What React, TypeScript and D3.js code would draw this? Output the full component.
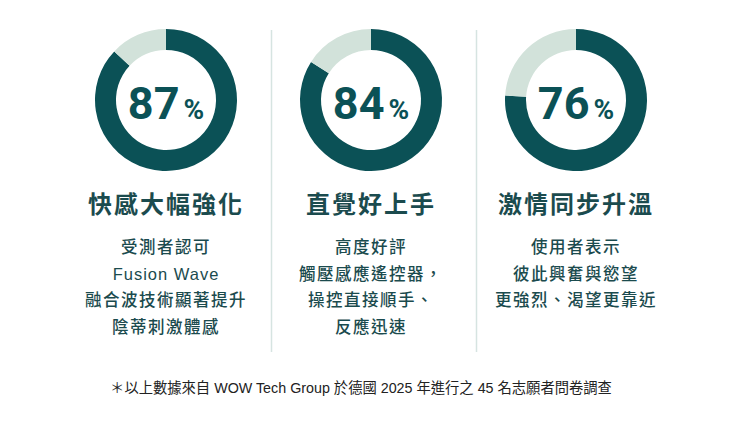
import * as d3 from 'd3';

const PERCENTS = [87, 84, 76];
const TITLES = ['快感大幅強化', '直覺好上手', '激情同步升溫'];
const DESCRIPTIONS: string[][] = [
  ['受測者認可', 'Fusion Wave', '融合波技術顯著提升', '陰蒂刺激體感'],
  ['高度好評', '觸壓感應遙控器，', '操控直接順手、', '反應迅速'],
  ['使用者表示', '彼此興奮與慾望', '更強烈、渴望更靠近'],
];
const FOOTNOTE = '＊以上數據來自 WOW Tech Group 於德國 2025 年進行之 45 名志願者問卷調查';

const W = 750;
const H = 447;
const DARK = '#0b5156';
const LIGHT = '#d2e2da';
const TEXT = '#1b4b4e';
const RULE = '#d6e4e1';
const CJK = '"Liberation Sans", Arial, "Noto Sans CJK TC", sans-serif';
const NUM = 'Roboto, "Liberation Sans", sans-serif';

export default function App() {
  const x = d3.scalePoint<number>()
    .domain(d3.range(PERCENTS.length))
    .range([166, 576]);

  const cy = 100;
  const outerR = 71;
  const innerR = 50;

  const pie = d3.pie<number>().sort(null).value(d => d);
  const arc = d3.arc<d3.PieArcDatum<number>>().innerRadius(innerR).outerRadius(outerR);

  const lineY = d3.scaleLinear().domain([0, 1]).range([247, 273.5]);

  return (
    <svg width={W} height={H} style={{ position: 'absolute', left: 0, top: 0, background: '#fff' }}>
      {/* dividers */}
      {[0, 1].map(i => {
        const mx = ((x(i) ?? 0) + (x(i + 1) ?? 0)) / 2 + 3;
        return <line key={i} x1={mx} x2={mx} y1={30} y2={352} stroke={RULE} strokeWidth={1.5} />;
      })}

      {PERCENTS.map((p, i) => {
        const cx = x(i) ?? 0;
        const slices = pie([p, 100 - p]);
        return (
          <g key={i}>
            <g transform={`translate(${cx},${cy})`}>
              {slices.map((s, j) => (
                <path key={j} d={arc(s) ?? ''} fill={j === 0 ? DARK : LIGHT} />
              ))}
              <text y={19} textAnchor="middle" fill={DARK} fontFamily={NUM} fontWeight={700}>
                <tspan fontSize={45}>{p}</tspan>
                <tspan fontSize={28} dx={4}>%</tspan>
              </text>
            </g>
            <text x={cx} y={204} textAnchor="middle" dominantBaseline="central" fontSize={24}
              fontWeight={700} letterSpacing={2} fill={TEXT} fontFamily={CJK}>
              {TITLES[i]}
            </text>
            {DESCRIPTIONS[i].map((line, k) => (
              <text key={k} x={cx} y={lineY(k)} textAnchor="middle" dominantBaseline="central"
                fontSize={16.5} fontWeight={500} letterSpacing={/^[A-Za-z ]+$/.test(line) ? 1 : 1.5}
                fill={TEXT} fontFamily={CJK}>
                {line}
              </text>
            ))}
          </g>
        );
      })}

      <text x={361} y={388} textAnchor="middle" dominantBaseline="central" fontSize={14.3}
        fill="#222" fontFamily={CJK}>
        {FOOTNOTE}
      </text>
    </svg>
  );
}
